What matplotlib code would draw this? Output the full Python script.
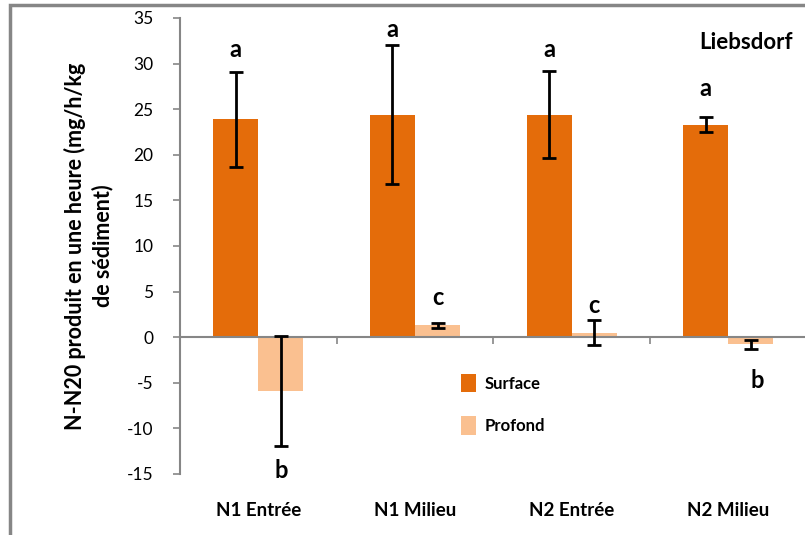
import numpy as np
import matplotlib.pyplot as plt
from matplotlib.patches import Rectangle

plt.rcParams['font.family'] = ['Lato', 'DejaVu Sans']
plt.rcParams['axes.unicode_minus'] = False

# Data
categories = ['N1 Entrée', 'N1 Milieu', 'N2 Entrée', 'N2 Milieu']
surface = [23.9, 24.4, 24.4, 23.3]
surface_err = [5.2, 7.6, 4.8, 0.8]
profond = [-5.9, 1.3, 0.5, -0.8]
profond_err = [6.0, 0.3, 1.4, 0.5]

surface_letters = ['a', 'a', 'a', 'a']
surface_letter_y = [31.5, 33.7, 31.5, 27.3]
profond_letters = ['b', 'c', 'c', 'b']
profond_letter_y = [-14.6, 4.3, 3.5, -4.8]

c_surface = '#E46C0A'
c_profond = '#FAC090'
grey = '#868686'

fig = plt.figure(figsize=(8.05, 5.35), dpi=100)
ax = fig.add_axes([180 / 805, 1 - 474 / 535, 1.0 - 180 / 805 + 0.002, (474 - 18) / 535])

# outer chart frame (only left and top edges visible)
fig.patches.append(Rectangle((10 / 805, -0.2), 1.2, 1.2 - 5 / 535,
                             transform=fig.transFigure, fill=False,
                             edgecolor=grey, linewidth=2.5, zorder=0))

x = np.arange(len(categories))
w = 0.288

ax.bar(x - w / 2, surface, w, color=c_surface, label='Surface', zorder=2)
ax.bar(x + w / 2, profond, w, color=c_profond, label='Profond', zorder=2)
ax.errorbar(x - w / 2, surface, yerr=surface_err, fmt='none', ecolor='black',
            elinewidth=2, capsize=5, capthick=2, zorder=3)
ax.errorbar(x + w / 2, profond, yerr=profond_err, fmt='none', ecolor='black',
            elinewidth=2, capsize=5, capthick=2, zorder=3)

for xi, t, y in zip(x - w / 2, surface_letters, surface_letter_y):
    ax.text(xi, y, t, ha='center', va='center', fontsize=17, fontweight='bold')
for i, (xi, t, y) in enumerate(zip(x + w / 2, profond_letters, profond_letter_y)):
    dx = 0.04 if i == 3 else 0
    ax.text(xi + dx, y, t, ha='center', va='center', fontsize=17, fontweight='bold')

ax.text(0.903, 0.947, 'Liebsdorf', transform=ax.transAxes, ha='center', va='center',
        fontsize=16, fontweight='bold')

ax.set_xlim(-0.5, 3.5)
ax.set_ylim(-15, 35)
ax.set_yticks(np.arange(-15, 36, 5))
ax.tick_params(axis='y', colors=grey, length=5, width=1.2, labelsize=12.5,
               labelcolor='black', pad=14)

# category axis crosses at zero, labels stay at the bottom
ax.spines['bottom'].set_position(('data', 0))
for s in ['top', 'right']:
    ax.spines[s].set_visible(False)
for s in ['left', 'bottom']:
    ax.spines[s].set_color(grey)
    ax.spines[s].set_linewidth(1.5)
ax.set_xticks(np.arange(-0.5, 3.6, 1.0))
ax.set_xticklabels([])
ax.tick_params(axis='x', colors=grey, length=5, width=1.2, direction='out')
for xi, lab in zip(x, categories):
    ax.text(xi, -0.08, lab, transform=ax.get_xaxis_transform(), ha='center',
            va='center', fontsize=13.5, fontweight='bold')

ax.set_ylabel('N-N20 produit en une heure (mg/h/kg\nde sédiment)',
              fontsize=15.5, fontweight='bold', labelpad=10, linespacing=1.3)

ax.legend(loc='upper left', bbox_to_anchor=(0.425, 0.252), frameon=False,
          handlelength=0.9, handleheight=1.3, handletextpad=0.5, labelspacing=1.45,
          prop={'weight': 'bold', 'size': 12})

fig.savefig('out.png', dpi=100)
